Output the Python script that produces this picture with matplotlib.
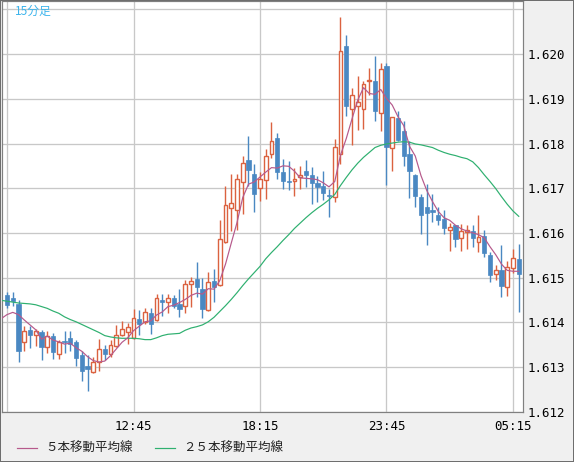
import matplotlib.pyplot as plt
from matplotlib.patches import Rectangle
from matplotlib.lines import Line2D
import numpy as np

# 15-minute candles, 07:15 .. 05:30
opens = [1.61460, 1.61455, 1.61440, 1.61356, 1.61382, 1.61372, 1.61379, 1.61345, 1.61369, 1.61329,
         1.61359, 1.61364, 1.61355, 1.61326, 1.61303, 1.61289, 1.61312, 1.61339, 1.61329, 1.61346,
         1.61372, 1.61379, 1.61364, 1.61408, 1.61400, 1.61421, 1.61405, 1.61449, 1.61446, 1.61455,
         1.61440, 1.61436, 1.61486, 1.61496, 1.61475, 1.61428, 1.61492, 1.61483, 1.61580, 1.61656,
         1.61652, 1.61714, 1.61764, 1.61732, 1.61700, 1.61718, 1.61776, 1.61812, 1.61737, 1.61717,
         1.61717, 1.61726, 1.61738, 1.61730, 1.61711, 1.61706, 1.61684, 1.61680, 1.61776, 1.62019,
         1.61878, 1.61883, 1.61878, 1.61939, 1.61939, 1.61869, 1.61974, 1.61790, 1.61857, 1.61829,
         1.61777, 1.61730, 1.61680, 1.61658, 1.61652, 1.61641, 1.61630, 1.61606, 1.61617, 1.61589,
         1.61603, 1.61605, 1.61580, 1.61594, 1.61551, 1.61508, 1.61516, 1.61479, 1.61522, 1.61542]
highs = [1.61467, 1.61467, 1.61449, 1.61391, 1.61391, 1.61385, 1.61382, 1.61380, 1.61376, 1.61361,
         1.61381, 1.61380, 1.61361, 1.61335, 1.61327, 1.61323, 1.61363, 1.61348, 1.61361, 1.61393,
         1.61402, 1.61399, 1.61430, 1.61428, 1.61432, 1.61432, 1.61464, 1.61464, 1.61464, 1.61462,
         1.61475, 1.61494, 1.61501, 1.61535, 1.61498, 1.61513, 1.61520, 1.61628, 1.61706, 1.61732,
         1.61732, 1.61773, 1.61816, 1.61755, 1.61737, 1.61788, 1.61849, 1.61824, 1.61765, 1.61761,
         1.61746, 1.61750, 1.61764, 1.61748, 1.61728, 1.61738, 1.61699, 1.61811, 1.62083, 1.62042,
         1.61924, 1.61951, 1.61939, 1.61969, 1.61995, 1.61980, 1.61980, 1.61860, 1.61872, 1.61851,
         1.61805, 1.61731, 1.61686, 1.61710, 1.61686, 1.61659, 1.61652, 1.61622, 1.61618, 1.61620,
         1.61618, 1.61618, 1.61641, 1.61607, 1.61557, 1.61529, 1.61572, 1.61536, 1.61563, 1.61574]
lows = [1.61432, 1.61437, 1.61311, 1.61335, 1.61342, 1.61346, 1.61316, 1.61332, 1.61317, 1.61317,
        1.61332, 1.61335, 1.61302, 1.61268, 1.61246, 1.61287, 1.61290, 1.61315, 1.61323, 1.61345,
        1.61369, 1.61352, 1.61362, 1.61371, 1.61395, 1.61373, 1.61402, 1.61414, 1.61421, 1.61432,
        1.61412, 1.61420, 1.61434, 1.61457, 1.61409, 1.61424, 1.61446, 1.61481, 1.61578, 1.61605,
        1.61607, 1.61642, 1.61706, 1.61646, 1.61672, 1.61676, 1.61768, 1.61721, 1.61698, 1.61697,
        1.61683, 1.61699, 1.61702, 1.61665, 1.61668, 1.61674, 1.61636, 1.61669, 1.61754, 1.61862,
        1.61797, 1.61831, 1.61832, 1.61909, 1.61851, 1.61827, 1.61708, 1.61738, 1.61806, 1.61749,
        1.61678, 1.61659, 1.61598, 1.61572, 1.61624, 1.61618, 1.61598, 1.61559, 1.61568, 1.61559,
        1.61563, 1.61568, 1.61557, 1.61545, 1.61489, 1.61494, 1.61457, 1.61458, 1.61511, 1.61422]
closes = [1.61438, 1.61447, 1.61335, 1.61381, 1.61371, 1.61381, 1.61344, 1.61369, 1.61333, 1.61355,
          1.61355, 1.61352, 1.61320, 1.61291, 1.61296, 1.61311, 1.61339, 1.61329, 1.61348, 1.61372,
          1.61385, 1.61390, 1.61410, 1.61397, 1.61422, 1.61397, 1.61455, 1.61446, 1.61455, 1.61436,
          1.61430, 1.61486, 1.61493, 1.61478, 1.61430, 1.61489, 1.61479, 1.61587, 1.61663, 1.61667,
          1.61720, 1.61756, 1.61740, 1.61688, 1.61721, 1.61773, 1.61806, 1.61736, 1.61715, 1.61713,
          1.61721, 1.61730, 1.61729, 1.61712, 1.61702, 1.61689, 1.61682, 1.61792, 1.62007, 1.61885,
          1.61908, 1.61893, 1.61934, 1.61942, 1.61872, 1.61966, 1.61793, 1.61859, 1.61808, 1.61773,
          1.61738, 1.61682, 1.61639, 1.61645, 1.61646, 1.61628, 1.61610, 1.61613, 1.61587, 1.61605,
          1.61607, 1.61589, 1.61591, 1.61555, 1.61505, 1.61516, 1.61481, 1.61524, 1.61544, 1.61507]

# moving averages, first value belongs to the bar just left of the visible window
ma5 = [1.61408, 1.61417, 1.61422, 1.61417, 1.61405, 1.61394, 1.61383, 1.61362, 1.61369, 1.61360,
       1.61356, 1.61351, 1.61353, 1.61343, 1.61335, 1.61323, 1.61314, 1.61311, 1.61313, 1.61325,
       1.61340, 1.61355, 1.61365, 1.61381, 1.61391, 1.61401, 1.61403, 1.61416, 1.61423, 1.61435,
       1.61438, 1.61444, 1.61451, 1.61460, 1.61465, 1.61463, 1.61475, 1.61474, 1.61493, 1.61530,
       1.61577, 1.61623, 1.61679, 1.61709, 1.61714, 1.61725, 1.61736, 1.61746, 1.61745, 1.61750,
       1.61749, 1.61738, 1.61723, 1.61722, 1.61721, 1.61719, 1.61712, 1.61703, 1.61715, 1.61774,
       1.61811, 1.61855, 1.61897, 1.61925, 1.61912, 1.61910, 1.61921, 1.61901, 1.61886, 1.61860,
       1.61840, 1.61794, 1.61772, 1.61728, 1.61695, 1.61670, 1.61648, 1.61634, 1.61628, 1.61617,
       1.61609, 1.61604, 1.61600, 1.61596, 1.61589, 1.61569, 1.61551, 1.61530, 1.61516, 1.61514,
       1.61514]
ma25 = [1.61449, 1.61447, 1.61445, 1.61443, 1.61442, 1.61441, 1.61439, 1.61435, 1.61431, 1.61425,
        1.61420, 1.61412, 1.61406, 1.61401, 1.61395, 1.61389, 1.61383, 1.61377, 1.61370, 1.61367,
        1.61365, 1.61364, 1.61364, 1.61364, 1.61363, 1.61361, 1.61361, 1.61365, 1.61370, 1.61373,
        1.61374, 1.61375, 1.61382, 1.61387, 1.61390, 1.61394, 1.61401, 1.61411, 1.61424, 1.61437,
        1.61451, 1.61466, 1.61482, 1.61497, 1.61511, 1.61525, 1.61542, 1.61556, 1.61569, 1.61583,
        1.61596, 1.61610, 1.61622, 1.61634, 1.61645, 1.61655, 1.61664, 1.61674, 1.61686, 1.61706,
        1.61724, 1.61741, 1.61756, 1.61769, 1.61780, 1.61791, 1.61796, 1.61799, 1.61801, 1.61803,
        1.61804, 1.61803, 1.61799, 1.61797, 1.61794, 1.61791, 1.61785, 1.61780, 1.61776, 1.61773,
        1.61769, 1.61766, 1.61759, 1.61746, 1.61730, 1.61715, 1.61699, 1.61681, 1.61664, 1.61649,
        1.61637]

time_labels = ['07:15', '12:45', '18:15', '23:45', '05:15']
price_levels = [1.612, 1.613, 1.614, 1.615, 1.616, 1.617, 1.618, 1.619, 1.620, 1.621]

UP = '#db6240'
DOWN = '#4a88c2'
MA5_COLOR = '#b65a8c'
MA25_COLOR = '#2fb070'
GRID = '#c8c8c8'
PX = 0.72  # one pixel in points at dpi 100

fig = plt.figure(figsize=(5.74, 4.62), dpi=100, facecolor='#f0f0f0')
ax = fig.add_axes([2 / 574, 50 / 462, 521 / 574, 411 / 462])
ax.set_facecolor('white')

n = len(closes)
x = np.arange(n)
bar_step = 22

# grid
for p in price_levels:
    ax.axhline(p, color=GRID, lw=1.3 * PX, zorder=0)
for k in range(len(time_labels)):
    ax.axvline(k * bar_step, color=GRID, lw=1.3 * PX, zorder=0)

# candles
for i in x:
    o, h, l, c = opens[i], highs[i], lows[i], closes[i]
    col = UP if c >= o else DOWN
    ax.vlines(i, l, h, color=col, lw=1.4 * PX, zorder=2)
    bottom = min(o, c)
    height = max(abs(c - o), 0.00002)
    if c >= o:
        ax.add_patch(Rectangle((i - 0.33, bottom), 0.66, height, facecolor='white',
                               edgecolor=col, lw=1.4 * PX, zorder=3))
    else:
        ax.add_patch(Rectangle((i - 0.35, bottom), 0.7, height, facecolor=col,
                               edgecolor=col, lw=0.5, zorder=3))

# moving averages
xm = np.arange(-1, n)
ax.plot(xm, ma25, color=MA25_COLOR, lw=1.2 * PX, zorder=4)
ax.plot(xm, ma5, color=MA5_COLOR, lw=1.2 * PX, zorder=4)

ax.set_xlim(-0.87, 89.74)
ax.set_ylim(1.61199, 1.62119)

ax.set_xticks([k * bar_step for k in range(len(time_labels))])
ax.set_xticklabels([''] + time_labels[1:], fontfamily='DejaVu Sans Mono', fontsize=9)
ax.yaxis.tick_right()
ax.set_yticks(price_levels)
ax.set_yticklabels([f'{p:.3f}' for p in price_levels[:-1]] + [''],
                   fontfamily='DejaVu Sans Mono', fontsize=9)
ax.tick_params(axis='x', length=0, pad=6)
ax.tick_params(axis='y', length=0, pad=3)

for s in ax.spines.values():
    s.set_color('#808080')
    s.set_linewidth(1.2 * PX)

# top-left caption
fig.text(15 / 574, 1 - 11 / 462, '15分足', color='#3cb4ec', fontsize=8.5,
         family=['Noto Sans CJK JP', 'DejaVu Sans'], va='center', ha='left')

# legend drawn by hand
ly = (462 - 448) / 462
fig.add_artist(Line2D([17 / 574, 37 / 574], [ly, ly], color=MA5_COLOR, lw=1.2 * PX))
fig.text(45 / 574, ly, '５本移動平均線', fontsize=9, va='center', ha='left',
         family=['Noto Sans CJK JP', 'DejaVu Sans'], color='#222222')
fig.add_artist(Line2D([155 / 574, 175 / 574], [ly, ly], color=MA25_COLOR, lw=1.2 * PX))
fig.text(183 / 574, ly, '２５本移動平均線', fontsize=9, va='center', ha='left',
         family=['Noto Sans CJK JP', 'DejaVu Sans'], color='#222222')

# outer frame
fig.add_artist(Rectangle((0, 0), 1, 1, transform=fig.transFigure, fill=False,
                         edgecolor='#6e6e6e', lw=2 * PX))

fig.savefig('out.png', dpi=100, facecolor=fig.get_facecolor())
